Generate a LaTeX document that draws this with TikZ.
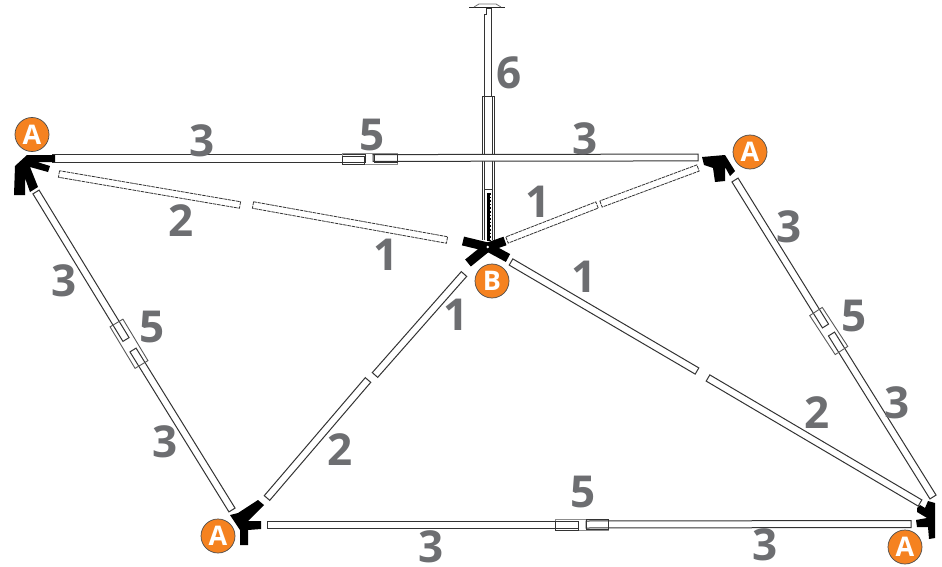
\documentclass[tikz,border=0pt]{standalone}
\usepackage{fontspec}
\setmainfont{Open Sans}
\usetikzlibrary{calc}
\definecolor{lab}{HTML}{6D6E71}
\definecolor{org}{HTML}{F58220}
\newcommand\tube[4][]{\draw[tubeline,#1] ($(#2)!#4!90:(#3)$) -- ($(#2)!#4!-90:(#3)$) -- ($(#3)!#4!90:(#2)$) -- ($(#3)!#4!-90:(#2)$) -- cycle;}
\tikzset{
 tubeline/.style={draw=black!80,line width=1pt,fill=white},
 dash tube/.style={line width=0.8pt,dash pattern=on 3.5pt off 0.8pt},
 sleeve/.style={draw=black!65,line width=0.9pt},
 num/.style={text=lab,font=\fontsize{44}{44}\selectfont\bfseries,inner sep=0pt},
 badge/.style={circle,draw=black!70,line width=0.7pt,fill=org,text=white,minimum size=34pt,inner sep=0pt,font=\fontsize{27}{27}\selectfont\bfseries},
 bracket/.style={fill=black,draw=none},
 arm/.style={line width=9pt,draw=black}
}
\begin{document}
\begin{tikzpicture}[x=1pt,y=-1pt]
\useasboundingbox (0,0) rectangle (942,567);
\fill[white] (0,0) rectangle (942,567);
% coordinates
\coordinate (topL) at (52,158.5);\coordinate (topR) at (698,157.5);
\coordinate (topM1) at (365,158.5);\coordinate (topM2) at (373,158);
\coordinate (botL) at (267,524.5);\coordinate (botR) at (911,524);
\coordinate (botM1) at (578,524.5);\coordinate (botM2) at (586,524.5);
\coordinate (lA) at (36,192);\coordinate (lB) at (232,510);
\coordinate (lM1) at (126,339.5);\coordinate (lM2) at (133,350);
\coordinate (rA) at (735,180);\coordinate (rB) at (933,497);
\coordinate (rM1) at (825.5,326);\coordinate (rM2) at (831.5,334);
\coordinate (a1) at (59,174);\coordinate (a2) at (240,205);
\coordinate (a3) at (253,205);\coordinate (a4) at (447,240);
\coordinate (b1) at (507,240);\coordinate (b2) at (597,205);
\coordinate (b3) at (601,204);\coordinate (b4) at (698,168);
\coordinate (c1) at (511,262);\coordinate (c2) at (697,371);
\coordinate (c3) at (708,378);\coordinate (c4) at (920,503);
\coordinate (d1) at (464,274);\coordinate (d2) at (375,375);
\coordinate (d3) at (368,380);\coordinate (d4) at (267,498);
% pole
\tube{488,97}{488,15}{3.6pt}
\draw[tubeline] (482,240) -- (482,97) -- (494,97) -- (494,240);
\draw[tubeline] (484,240) -- (484,97) -- (492,97) -- (492,240);
\draw[tubeline] (484,97) rectangle (492,189);
\draw[line width=2.6pt] (488.5,193) -- (488.5,241);
\draw[line width=4pt,dash pattern=on 1.6pt off 2pt] (488.5,193) -- (488.5,241);
\draw[tubeline,line width=0.9pt] (486.5,15) -- (486.5,8) -- (491,8) -- (491,15);
\draw[black!85,line width=1.2pt] (469,7.5) -- (505,7.5);
\draw[black!55,line width=0.8pt] (474,7) -- (479,4) -- (496,4) -- (501,7);
% tubes
\tube{topL}{topM1}{3.6pt}
\tube{topM2}{topR}{3.4pt}
\tube{botL}{botM1}{3.5pt}
\tube{botM2}{botR}{3.5pt}
\tube{lA}{lM1}{3.6pt}
\tube{lM2}{lB}{3.6pt}
\tube{rA}{rM1}{3.6pt}
\tube{rM2}{rB}{3.6pt}
\tube[dash tube]{a1}{a2}{3.3pt}
\tube[dash tube]{a3}{a4}{3.3pt}
\tube[dash tube]{b1}{b2}{3.3pt}
\tube[dash tube]{b3}{b4}{3.3pt}
\tube{c1}{c2}{3.6pt}
\tube{c3}{c4}{3.6pt}
\tube{d1}{d2}{3.6pt}
\tube{d3}{d4}{3.6pt}
% sleeves
\draw[sleeve,draw=black!45,line width=0.7pt] (342,153.5) rectangle (397,164);
\draw[tubeline,fill=none] (342,156) rectangle (364,164);
\draw[tubeline,fill=none] (374,154) rectangle (397,162);
\draw[sleeve,draw=black!45,line width=0.7pt] (555,519.5) rectangle (608,530);
\draw[tubeline,fill=none] (555,521) rectangle (578,530);
\draw[tubeline,fill=none] (586,519.5) rectangle (608,529);
\tube[sleeve,fill=none]{116.5,323}{141.5,364.5}{7.5pt}
\tube[sleeve,fill=none]{816,311.5}{841.5,350.5}{7.5pt}
% brackets
\fill[bracket] (27,155)--(55,155)--(55,162)--(37,162)--(50,166)--(48,172)--(30,167)--(38,187)--(30,192)--(25,178)--(25,195)--(14,195)--(15,166)--cycle;
\fill[bracket] (702,157)--(725,155)--(735,171)--(730,176)--(725,167)--(725,181)--(715,182)--(713,168)--(704,165)--cycle;
\fill[bracket] (230,515)--(238,513)--(258,500)--(264,505)--(248,521)--(261,521)--(261,529)--(248,530)--(248,545)--(240,545)--(240,530)--cycle;
\fill[bracket] (917,508)--(920,505)--(925,508)--(928,501)--(935,503)--(935,538)--(929,539)--(928,527)--(917,527)--(916,520)--(927,518)--(917,512)--cycle;
% hub
\coordinate (hub) at (487.7,247);
\coordinate (h1) at (463,241);\coordinate (h2) at (505,241);
\coordinate (h3) at (468,263);\coordinate (h4) at (508,258);
\draw[arm] (hub) -- (h1);\draw[arm] (hub) -- (h2);\draw[arm] (hub) -- (h3);\draw[arm] (hub) -- (h4);
\fill[white] (hub) circle (1.3pt);
% labels
\node[num] (n1) at (202,141) {3};
\node[num] (n2) at (372,135) {5};
\node[num] (n3) at (585,139) {3};
\node[num] (n4) at (181,221) {2};
\node[num] (n5) at (386,255) {1};
\node[num] (n6) at (538,202) {1};
\node[num] (n7) at (584,277) {1};
\node[num] (n8) at (64,281) {3};
\node[num] (n9) at (152,327) {5};
\node[num] (n10) at (165,442) {3};
\node[num] (n11) at (456,315) {1};
\node[num] (n12) at (340,450) {2};
\node[num] (n13) at (509,73) {6};
\node[num] (n14) at (789,227) {3};
\node[num] (n15) at (854,316) {5};
\node[num] (n16) at (897,403) {3};
\node[num] (n17) at (817,413) {2};
\node[num] (n18) at (583,492) {5};
\node[num] (n19) at (431,547) {3};
\node[num] (n20) at (765,545) {3};
\node[badge] (A1) at (32,134.5) {A};
\node[badge] (A2) at (750,152) {A};
\node[badge] (B1) at (492,281) {B};
\node[badge] (A3) at (218,536) {A};
\node[badge] (A4) at (905,547) {A};
\end{tikzpicture}
\end{document}
